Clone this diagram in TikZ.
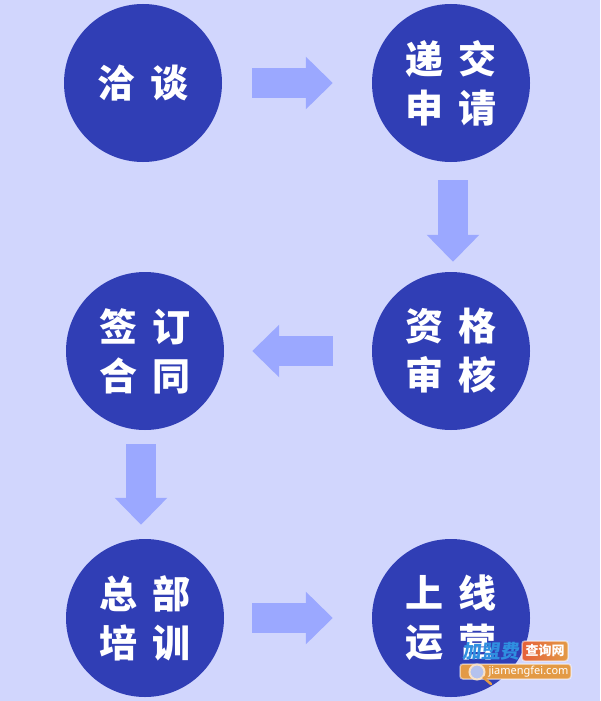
\documentclass[tikz,border=0pt]{standalone}
\usepackage{fontspec}
\newfontfamily\cjk{Noto Sans CJK SC}
\newfontfamily\marksans{Noto Sans}
\usetikzlibrary{arrows.meta}
\definecolor{pagebg}{HTML}{D1D6FD}
\definecolor{stepblue}{HTML}{303EB5}
\definecolor{arrowblue}{HTML}{9BA8FF}
\definecolor{markblue}{HTML}{2F8FE0}
\definecolor{markred}{HTML}{E5603A}
\definecolor{markorange}{HTML}{E39A45}
\definecolor{lensblue}{HTML}{B4C2EE}
\newcommand{\steprow}[2]{\raisebox{3pt}{#1\hspace{0.42em}#2}}
\tikzset{
  stepnode/.style={circle,fill=stepblue,text=white,minimum size=158pt,inner sep=0pt,
    align=center,font=\cjk\bfseries\fontsize{38pt}{49pt}\selectfont},
  flow/.style={arrowblue,line width=30pt,
    -{Triangle[width=51pt,length=27pt]}},
  markbox/.style={rounded corners=3pt,text=white,draw=white,draw opacity=0.5,line width=1.5pt}
}
\begin{document}
\begin{tikzpicture}[x=1pt,y=-1pt]
  \useasboundingbox (0,0) rectangle (600,701);
  \fill[pagebg] (0,0) rectangle (600,701);
  \node[stepnode] (talk) at (143,83) {\steprow{洽}{谈}};
  \node[stepnode] (apply) at (451,83) {\steprow{递}{交}\\\steprow{申}{请}};
  \node[stepnode] (sign) at (145,351) {\steprow{签}{订}\\\steprow{合}{同}};
  \node[stepnode] (check) at (451,351) {\steprow{资}{格}\\\steprow{审}{核}};
  \node[stepnode] (train) at (145,618) {\steprow{总}{部}\\\steprow{培}{训}};
  \node[stepnode] (run) at (451,618) {\steprow{上}{线}\\\steprow{运}{营}};
  \draw[flow,shorten <=30pt,shorten >=39pt] (talk.east) -- (apply.west);
  \draw[flow,shorten <=18pt,shorten >=10pt] ([xshift=2pt]apply.south) -- ([xshift=2pt]check.north);
  \draw[flow,shorten <=39pt,shorten >=28pt] (check.west) -- (sign.east);
  \draw[flow,shorten <=14pt,shorten >=14pt] ([xshift=-4pt]sign.south) -- ([xshift=-4pt]train.north);
  \draw[flow,shorten <=28pt,shorten >=39pt] (train.east) -- (run.west);
  % watermark
  \node[markbox,left color=markred,right color=markorange,minimum width=46pt,minimum height=20pt,inner sep=0pt,
    font=\cjk\bfseries\fontsize{13pt}{13pt}\selectfont] (query) at (545,651) {查询网};
  \node[text=markblue,xslant=0.12,font=\cjk\bfseries\fontsize{19pt}{19pt}\selectfont,inner sep=0pt] (brand) at (492,651) {加盟费};
  \node[markbox,fill=markorange,minimum width=111pt,minimum height=15pt,inner sep=0pt,
    font=\marksans\fontsize{11pt}{11pt}\selectfont] (site) at (515.5,671.5) {\hspace{26pt}jiamengfei.com};
  \node[circle,draw=white!70!markorange,fill=lensblue,line width=2pt,minimum size=15pt,inner sep=0pt] (lens) at (477,672) {};
  \coordinate (grip) at (491,684);
  \draw[markorange,line width=2.5pt,line cap=round] (lens) -- (grip);
\end{tikzpicture}
\end{document}
